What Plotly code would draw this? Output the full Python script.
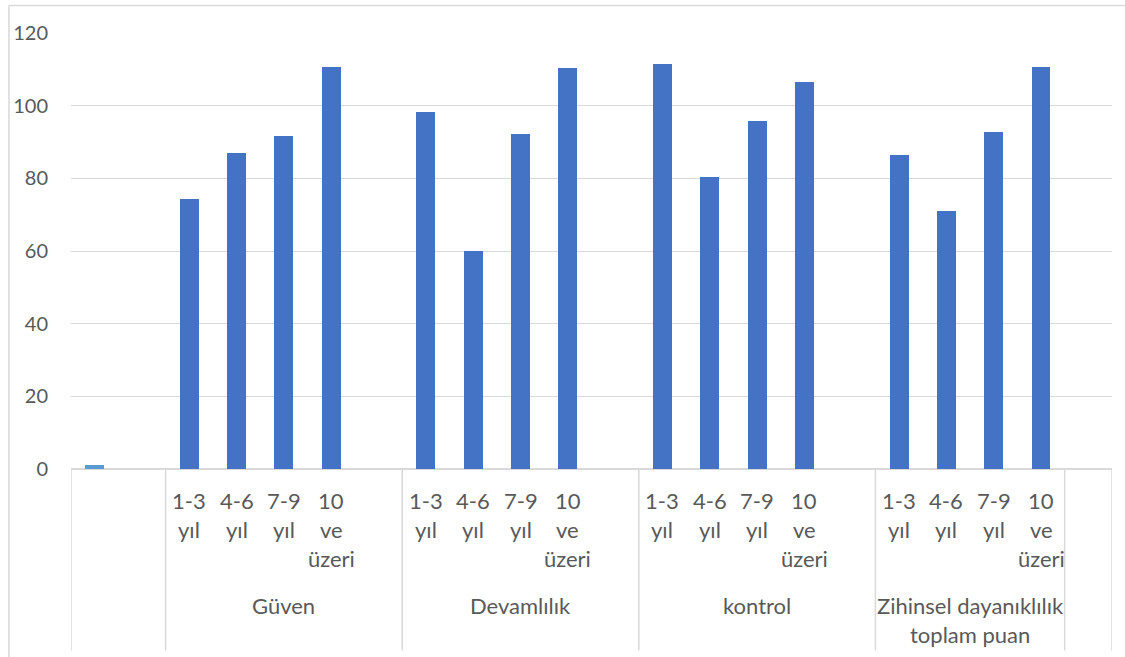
import plotly.graph_objects as go

# Values per experience band for each scale
bands = [["1-3", "yıl"], ["4-6", "yıl"], ["7-9", "yıl"], ["10", "ve", "üzeri"]]
group_names = [["Güven"], ["Devamlılık"], ["kontrol"], ["Zihinsel dayanıklılık", "toplam puan"]]
first_value = 1.0
guven = [74.2, 86.9, 91.7, 110.7]
devamlilik = [98.3, 59.9, 92.2, 110.4]
kontrol = [111.4, 80.4, 95.8, 106.4]
zihinsel = [86.3, 71.1, 92.7, 110.7]
y_ticks = [0, 20, 40, 60, 80, 100, 120]

series = [guven, devamlilik, kontrol, zihinsel]

FONT = "Lato"
TXT = "#595959"
GRID = "#D9D9D9"

# Slot layout on the category axis: a leading 2-slot block, four 5-slot groups
# (the last group only 4 slots) and a trailing empty slot.
group_start = [2, 7, 12, 17]
xs, ys = [], []
for g, vals in enumerate(series):
    for k, v in enumerate(vals):
        xs.append(group_start[g] + k)
        ys.append(v)

fig = go.Figure()
fig.add_trace(go.Bar(x=[0], y=[first_value], width=0.4,
                     marker=dict(color="#5B9BD5", line=dict(width=0)),
                     showlegend=False, hoverinfo="y"))
fig.add_trace(go.Bar(x=xs, y=ys, width=0.4,
                     marker=dict(color="#4472C4", line=dict(width=0)),
                     showlegend=False, hoverinfo="y"))

annotations = []
# Sub-category labels, one annotation per text line
for g in range(4):
    for k, lines in enumerate(bands):
        for i, line in enumerate(lines):
            annotations.append(dict(x=group_start[g] + k, y=0, xref="x", yref="y",
                                    text=line, showarrow=False, yanchor="middle",
                                    xanchor="center", yshift=-31 - 29 * i,
                                    font=dict(family=FONT, size=22, color=TXT)))
# Group labels
group_centers = [4.0, 9.0, 14.0, 18.5]
for g, lines in enumerate(group_names):
    for i, line in enumerate(lines):
        annotations.append(dict(x=group_centers[g], y=0, xref="x", yref="y",
                                text=line, showarrow=False, yanchor="middle",
                                xanchor="center", yshift=-136 - 29 * i,
                                font=dict(family=FONT, size=22, color=TXT)))

shapes = []
# Vertical dividers of the category axis
for xb in [-0.5, 1.5, 6.5, 11.5, 16.5, 20.5, 21.5]:
    shapes.append(dict(type="line", xref="x", yref="paper", x0=xb, x1=xb,
                       y0=0, y1=-0.416, line=dict(color=GRID, width=1.5)))
# Chart area outline (top and left edges)
shapes.append(dict(type="line", xref="paper", yref="paper", x0=-0.0596, x1=1.1,
                   y0=1.0629, y1=1.0629, line=dict(color=GRID, width=1.5)))
shapes.append(dict(type="line", xref="paper", yref="paper", x0=-0.0596, x1=-0.0596,
                   y0=1.0629, y1=-0.6, line=dict(color=GRID, width=1.5)))

fig.update_layout(
    width=1125, height=657,
    margin=dict(l=71, r=13, t=33, b=188),
    paper_bgcolor="white", plot_bgcolor="white",
    bargap=0,
    xaxis=dict(range=[-0.5, 21.5], showticklabels=False, showgrid=False,
               zeroline=False, showline=False, fixedrange=True),
    yaxis=dict(range=[0, 120], tickvals=y_ticks, showgrid=True, gridcolor=GRID,
               gridwidth=1.3, zeroline=True, zerolinecolor=GRID, zerolinewidth=2,
               showline=False, ticks="", ticklabelstandoff=22,
               tickfont=dict(family=FONT, size=20, color=TXT), fixedrange=True),
    annotations=annotations,
    shapes=shapes,
)

fig.write_html("out.html")
